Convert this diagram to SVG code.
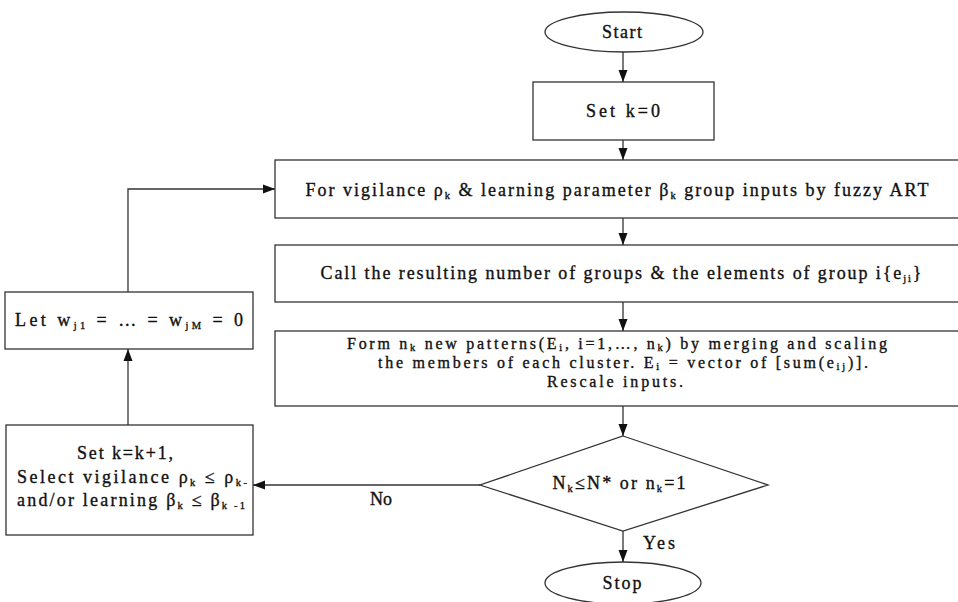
<svg xmlns="http://www.w3.org/2000/svg" width="958" height="602" viewBox="0 0 958 602">
<style>
.shape{fill:#fff;stroke:#333;stroke-width:1.3}
.conn{fill:none;stroke:#333;stroke-width:1.3}
text{font-family:"Liberation Serif","Times New Roman",serif;font-size:18px;fill:#111;stroke:#111;stroke-width:0.35;text-anchor:middle}
.sm{font-size:16px}
.sub{font-size:10.5px}
</style>
<defs>
<marker id="ah" viewBox="0 0 12 10" refX="12" refY="5" markerWidth="12" markerHeight="10" markerUnits="userSpaceOnUse" orient="auto">
<path d="M0,0.5 L12,5 L0,9.5 z" fill="#111"/>
</marker>
</defs>
<g id="start">
<ellipse class="shape" cx="624" cy="32" rx="79" ry="20"/>
<text x="622" y="38" textLength="40" lengthAdjust="spacing">Start</text>
</g>
<g id="setk0">
<rect class="shape" x="533" y="82" width="181" height="58"/>
<text x="623" y="117" textLength="74" lengthAdjust="spacing">Set  k=0</text>
</g>
<g id="fuzzy">
<rect class="shape" x="275" y="160" width="690" height="58"/>
<text x="617" y="196" textLength="623" lengthAdjust="spacing">For vigilance ρ<tspan class="sub" dy="3">k</tspan><tspan dy="-3">  &amp; learning parameter β</tspan><tspan class="sub" dy="3">k</tspan><tspan dy="-3"> group inputs by fuzzy ART</tspan></text>
</g>
<g id="call">
<rect class="shape" x="275" y="245" width="690" height="57"/>
<text x="621" y="279" textLength="601" lengthAdjust="spacing">Call the resulting number of groups &amp; the elements of group i{e<tspan class="sub" dy="3">ji</tspan><tspan dy="-3">}</tspan></text>
</g>
<g id="form">
<rect class="shape" x="275" y="331" width="690" height="75"/>
<text class="sm" x="617" y="349" textLength="540" lengthAdjust="spacing">Form n<tspan class="sub" dy="2">k</tspan><tspan dy="-2"> new patterns(E</tspan><tspan class="sub" dy="2">i</tspan><tspan dy="-2">, i=1,…, n</tspan><tspan class="sub" dy="2">k</tspan><tspan dy="-2">) by merging and scaling</tspan></text>
<text class="sm" x="623" y="368" textLength="490" lengthAdjust="spacing">the members of each cluster. E<tspan class="sub" dy="2">i</tspan><tspan dy="-2"> = vector of [sum(e</tspan><tspan class="sub" dy="2">ij</tspan><tspan dy="-2">)].</tspan></text>
<text class="sm" x="615" y="387" textLength="136" lengthAdjust="spacing">Rescale inputs.</text>
</g>
<g id="decision">
<polygon class="shape" points="623,436 768,485 623,531 480,485"/>
<text x="619" y="489" textLength="133" lengthAdjust="spacing">N<tspan class="sub" dy="3">k</tspan><tspan dy="-3">≤N* or n</tspan><tspan class="sub" dy="3">k</tspan><tspan dy="-3">=1</tspan></text>
</g>
<g id="stop">
<ellipse class="shape" cx="623" cy="583" rx="78" ry="21"/>
<text x="622" y="589" textLength="39" lengthAdjust="spacing">Stop</text>
</g>
<g id="update">
<rect class="shape" x="6" y="425" width="247" height="110"/>
<text x="125" y="459" textLength="96" lengthAdjust="spacing">Set  k=k+1,</text>
<text x="132" y="483" textLength="230" lengthAdjust="spacing">Select vigilance ρ<tspan class="sub" dy="3">k</tspan><tspan dy="-3"> ≤ ρ</tspan><tspan class="sub" dy="3">k-</tspan></text>
<text x="131" y="506" textLength="228" lengthAdjust="spacing">and/or learning  β<tspan class="sub" dy="3">k</tspan><tspan dy="-3"> ≤ β</tspan><tspan class="sub" dy="3">k -1</tspan></text>
</g>
<g id="reset">
<rect class="shape" x="5" y="292" width="248" height="57"/>
<text x="129" y="326" textLength="228" lengthAdjust="spacing">Let w<tspan class="sub" dy="3">j1</tspan><tspan dy="-3"> = … = w</tspan><tspan class="sub" dy="3">jM</tspan><tspan dy="-3"> = 0</tspan></text>
</g>
<g id="connectors">
<line class="conn" x1="623" y1="52" x2="623" y2="82" marker-end="url(#ah)"/>
<line class="conn" x1="623" y1="140" x2="623" y2="160" marker-end="url(#ah)"/>
<line class="conn" x1="623" y1="218" x2="623" y2="245" marker-end="url(#ah)"/>
<line class="conn" x1="623" y1="302" x2="623" y2="331" marker-end="url(#ah)"/>
<line class="conn" x1="623" y1="406" x2="623" y2="436" marker-end="url(#ah)"/>
<line class="conn" x1="623" y1="531" x2="623" y2="562" marker-end="url(#ah)"/>
<line class="conn" x1="480" y1="485" x2="253" y2="485" marker-end="url(#ah)"/>
<line class="conn" x1="128" y1="425" x2="128" y2="349" marker-end="url(#ah)"/>
<polyline class="conn" points="128,292 128,189 275,189" marker-end="url(#ah)"/>
<text x="659" y="549" textLength="32" lengthAdjust="spacing">Yes</text>
<text x="381" y="505" textLength="22" lengthAdjust="spacing">No</text>
</g>
</svg>
